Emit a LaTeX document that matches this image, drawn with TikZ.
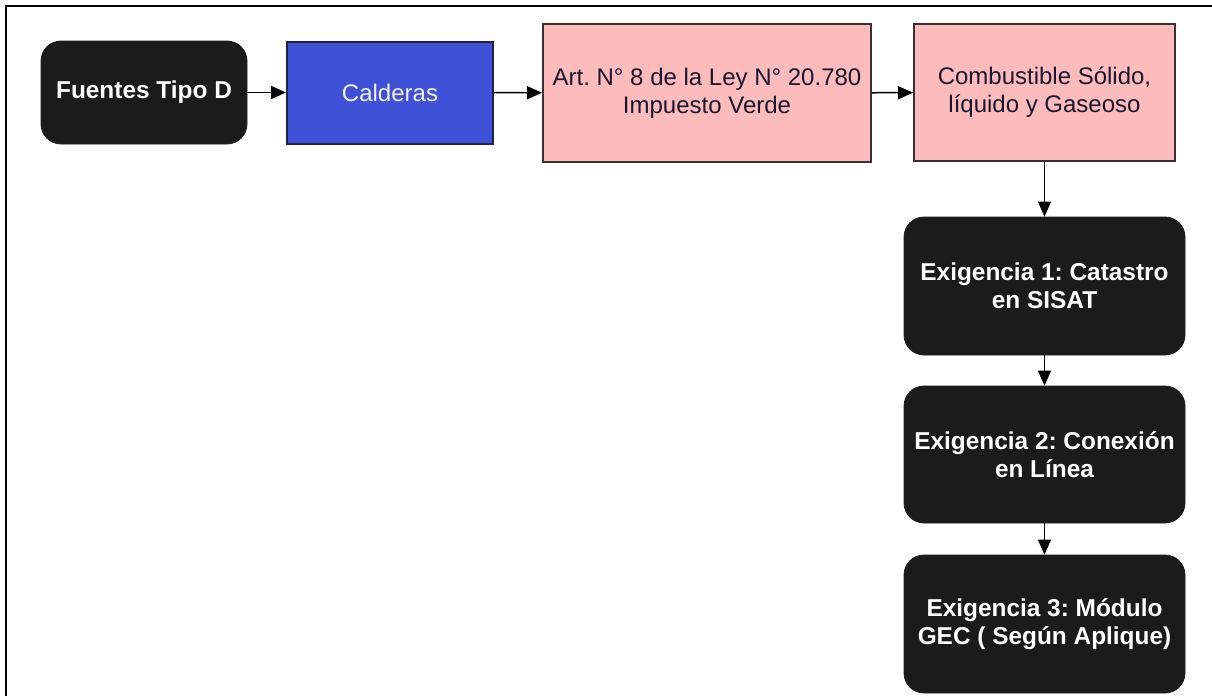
\documentclass[tikz,border=0pt]{standalone}
\usepackage{fontspec}
\setmainfont{Liberation Sans}
\usetikzlibrary{arrows.meta}
\frenchspacing

\definecolor{boxblack}{HTML}{1B1B1B}
\definecolor{calblue}{HTML}{3F51D6}
\definecolor{calline}{HTML}{1E2148}
\definecolor{leypink}{HTML}{FDBCBC}
\definecolor{leyline}{HTML}{3A2E2E}
\definecolor{leytext}{HTML}{1A1530}

\tikzset{
  darkbox/.style={fill=boxblack, draw=boxblack, rounded corners=10pt, text=white,
    font=\fontsize{12.2}{14}\selectfont\bfseries, align=center, inner sep=0pt},
  bluebox/.style={fill=calblue, draw=calline, line width=1pt, text=white!95!blue,
    font=\fontsize{12}{14}\selectfont, align=center, inner sep=0pt},
  pinkbox/.style={fill=leypink, draw=leyline, line width=1pt, text=leytext,
    font=\fontsize{12}{14}\selectfont, align=center, inner sep=0pt},
  flecha/.style={line width=0.75pt, -{Triangle[length=7.5pt,width=6.5pt]}}
}

\begin{document}
\begin{tikzpicture}[x=0.5pt, y=-0.5pt]

\useasboundingbox (0,0) rectangle (1212,696);
\draw[line width=1pt] (6,6) rectangle (1230,720);

\node[darkbox, minimum width=103pt, minimum height=51.5pt] (fuentes) at (144,92.5) {Fuentes Tipo D};
\node[bluebox, minimum width=103pt, minimum height=51pt] (calderas) at (390,92.5) {Calderas};
\node[pinkbox, minimum width=164pt, minimum height=69pt] (ley) at (707,93) {Art. N° 8 de la Ley N° 20.780\\Impuesto Verde};
\node[pinkbox, minimum width=130.5pt, minimum height=68.5pt] (combustible) at (1044.5,92.5) {Combustible Sólido,\\líquido y Gaseoso};

\node[darkbox, minimum width=140.5pt, minimum height=69pt] (exig1) at (1044.5,286) {Exigencia 1: Catastro\\en SISAT};
\node[darkbox, minimum width=140.5pt, minimum height=68.5pt] (exig2) at (1044.5,454.5) {Exigencia 2: Conexión\\en Línea};
\node[darkbox, minimum width=140.5pt, minimum height=69pt] (exig3) at (1044.5,624) {Exigencia 3: Módulo\\GEC ( Según Aplique)};

\draw[flecha] (fuentes) -- (calderas);
\draw[flecha] (calderas) -- (ley);
\draw[flecha] (ley) -- (combustible);
\draw[flecha] (combustible) -- (exig1);
\draw[flecha] (exig1) -- (exig2);
\draw[flecha] (exig2) -- (exig3);

\end{tikzpicture}
\end{document}
